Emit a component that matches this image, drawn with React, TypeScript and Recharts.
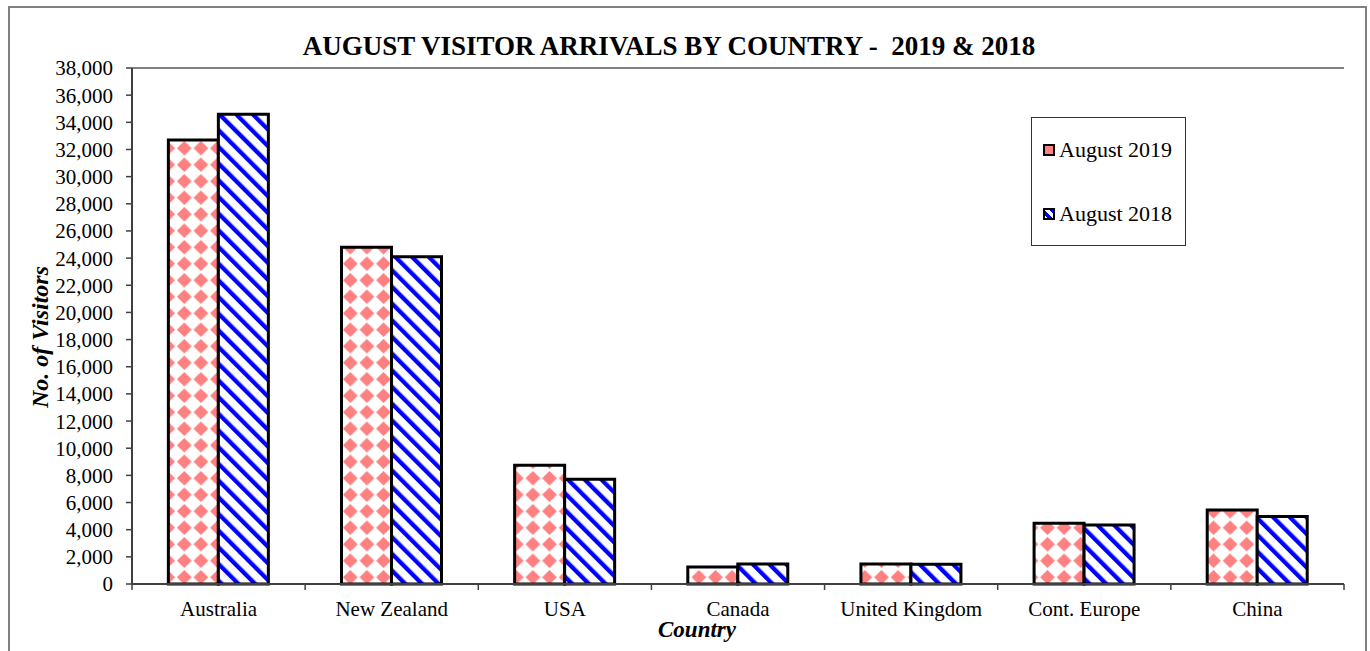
import React from 'react'
import {
  BarChart,
  Bar,
  XAxis,
  YAxis,
  CartesianGrid,
  Legend,
  ReferenceLine,
} from 'recharts'

const categories = ['Australia', 'New Zealand', 'USA', 'Canada', 'United Kingdom', 'Cont. Europe', 'China']
const aug2019 = [32700, 24800, 8750, 1250, 1470, 4480, 5450]
const aug2018 = [34600, 24100, 7720, 1470, 1460, 4340, 4980]
const yTicks = [0, 2000, 4000, 6000, 8000, 10000, 12000, 14000, 16000, 18000, 20000, 22000, 24000, 26000, 28000, 30000, 32000, 34000, 36000, 38000]
const seriesNames = ['August 2019', 'August 2018']

const data = categories.map((name, i) => ({ name, a2019: aug2019[i], a2018: aug2018[i] }))

const FONT = '"Liberation Serif", "Times New Roman", serif'
const W = 1355
const H = 643
const MARGIN = { top: 60, right: 21, left: 0, bottom: 17 }
const Y_W = 122
const PLOT_W = W - MARGIN.right - Y_W
const BAND = PLOT_W / categories.length

function CategoryTick(props: any) {
  const { x, y, payload, index } = props
  const left = x - BAND / 2
  const right = x + BAND / 2
  return (
    <g>
      <line x1={left} y1={y} x2={left} y2={y + 6} stroke="#404040" strokeWidth={1.5} />
      {index === categories.length - 1 && (
        <line x1={right} y1={y} x2={right} y2={y + 6} stroke="#404040" strokeWidth={1.5} />
      )}
      <text x={x} y={y + 32} textAnchor="middle" fontFamily={FONT} fontSize={21} fill="#000">
        {payload.value}
      </text>
    </g>
  )
}

function YTitle(props: any) {
  const { viewBox } = props
  const cx = viewBox.x + 30
  const cy = viewBox.y + viewBox.height / 2 + 11
  return (
    <text
      x={cx}
      y={cy}
      transform={`rotate(-90 ${cx} ${cy})`}
      textAnchor="middle"
      dominantBaseline="central"
      fontFamily={FONT}
      fontSize={24}
      fontWeight="bold"
      fontStyle="italic"
      fill="#000"
    >
      No. of Visitors
    </text>
  )
}

function XTitle(props: any) {
  const { viewBox } = props
  const cx = viewBox.x + viewBox.width / 2 - 41
  return (
    <text
      x={cx}
      y={629}
      textAnchor="middle"
      fontFamily={FONT}
      fontSize={23}
      fontWeight="bold"
      fontStyle="italic"
      fill="#000"
    >
      Country
    </text>
  )
}

function LegendBox() {
  const marker = (fill: string) => ({
    display: 'inline-block',
    width: 12,
    height: 12,
    boxSizing: 'border-box' as const,
    border: '2px solid #000',
    background: fill,
    marginRight: 4,
  })
  return (
    <div
      style={{
        width: 155,
        height: 129,
        boxSizing: 'border-box',
        border: '1px solid #333',
        background: '#fff',
        fontFamily: FONT,
        fontSize: 22,
        position: 'relative',
      }}
    >
      <div style={{ position: 'absolute', left: 11, top: 19, display: 'flex', alignItems: 'center', whiteSpace: 'nowrap' }}>
        <span style={marker('#ff8080')} />
        {seriesNames[0]}
      </div>
      <div style={{ position: 'absolute', left: 11, top: 83, display: 'flex', alignItems: 'center', whiteSpace: 'nowrap' }}>
        <span
          style={marker(
            'repeating-linear-gradient(45deg, #fff 0px, #fff 2px, #0000ff 2px, #0000ff 5px, #fff 5px, #fff 7px)'
          )}
        />
        {seriesNames[1]}
      </div>
    </div>
  )
}

export default function App() {
  return (
    <div
      style={{
        position: 'absolute',
        left: 8,
        top: 6,
        width: W,
        height: 645,
        boxSizing: 'content-box',
        borderLeft: '2px solid #808080',
        borderTop: '2px solid #808080',
        borderRight: '2px solid #808080',
        background: '#fff',
      }}
    >
      <div
        style={{
          position: 'absolute',
          left: 0,
          width: 1318,
          top: 23,
          textAlign: 'center',
          fontFamily: FONT,
          fontWeight: 'bold',
          fontSize: 27,
          whiteSpace: 'pre',
          lineHeight: '30px',
        }}
      >
        {'AUGUST VISITOR ARRIVALS BY COUNTRY -  2019 & 2018'}
      </div>
      <BarChart
        width={W}
        height={H}
        data={data}
        margin={MARGIN}
        barCategoryGap="21%"
        barGap={0}
        style={{ position: 'absolute', left: 0, top: 0 }}
      >
        <defs>
          <pattern id="pinkDiamond" patternUnits="userSpaceOnUse" width={16.6} height={16.5}>
            <rect width={16.6} height={16.5} fill="#fff" />
            <polygon points="8.3,0.9 15.7,8.25 8.3,15.6 0.9,8.25" fill="#ff8080" />
          </pattern>
          <pattern
            id="blueStripe"
            patternUnits="userSpaceOnUse"
            width={11.8}
            height={11.8}
            patternTransform="rotate(-45)"
          >
            <rect width={11.8} height={11.8} fill="#fff" />
            <rect width={4.3} height={11.8} fill="#0000ff" />
          </pattern>
        </defs>
        <CartesianGrid vertical={false} stroke="#1a1a1a" strokeWidth={1} />
        <XAxis
          dataKey="name"
          axisLine={{ stroke: '#404040', strokeWidth: 2 }}
          tickLine={false}
          tickSize={0}
          tickMargin={0}
          height={50}
          interval={0}
          tick={<CategoryTick />}
          label={<XTitle />}
        />
        <YAxis
          yAxisId="left"
          width={Y_W}
          domain={[0, 38000]}
          ticks={yTicks}
          interval={0}
          axisLine={{ stroke: '#404040', strokeWidth: 2 }}
          tickLine={{ stroke: '#404040', strokeWidth: 1.5 }}
          tickSize={6}
          tickMargin={13}
          tick={{ fontFamily: FONT, fontSize: 21, fill: '#000' }}
          tickFormatter={(v: number) => v.toLocaleString('en-US')}
          label={<YTitle />}
        />
        <YAxis
          yAxisId="right"
          orientation="right"
          width={0}
          domain={[0, 38000]}
          tick={false}
          tickLine={false}
          axisLine={{ stroke: '#808080', strokeWidth: 2 }}
        />
        <ReferenceLine yAxisId="left" y={38000} stroke="#808080" strokeWidth={2} />
        <Legend
          layout="vertical"
          align="center"
          verticalAlign="middle"
          content={<LegendBox />}
          wrapperStyle={{ left: 1021, top: 109, width: 155, height: 129 }}
        />
        <Bar
          yAxisId="left"
          dataKey="a2019"
          name={seriesNames[0]}
          fill="url(#pinkDiamond)"
          stroke="#000"
          strokeWidth={3}
          isAnimationActive={false}
        />
        <Bar
          yAxisId="left"
          dataKey="a2018"
          name={seriesNames[1]}
          fill="url(#blueStripe)"
          stroke="#000"
          strokeWidth={3}
          isAnimationActive={false}
        />
      </BarChart>
    </div>
  )
}
